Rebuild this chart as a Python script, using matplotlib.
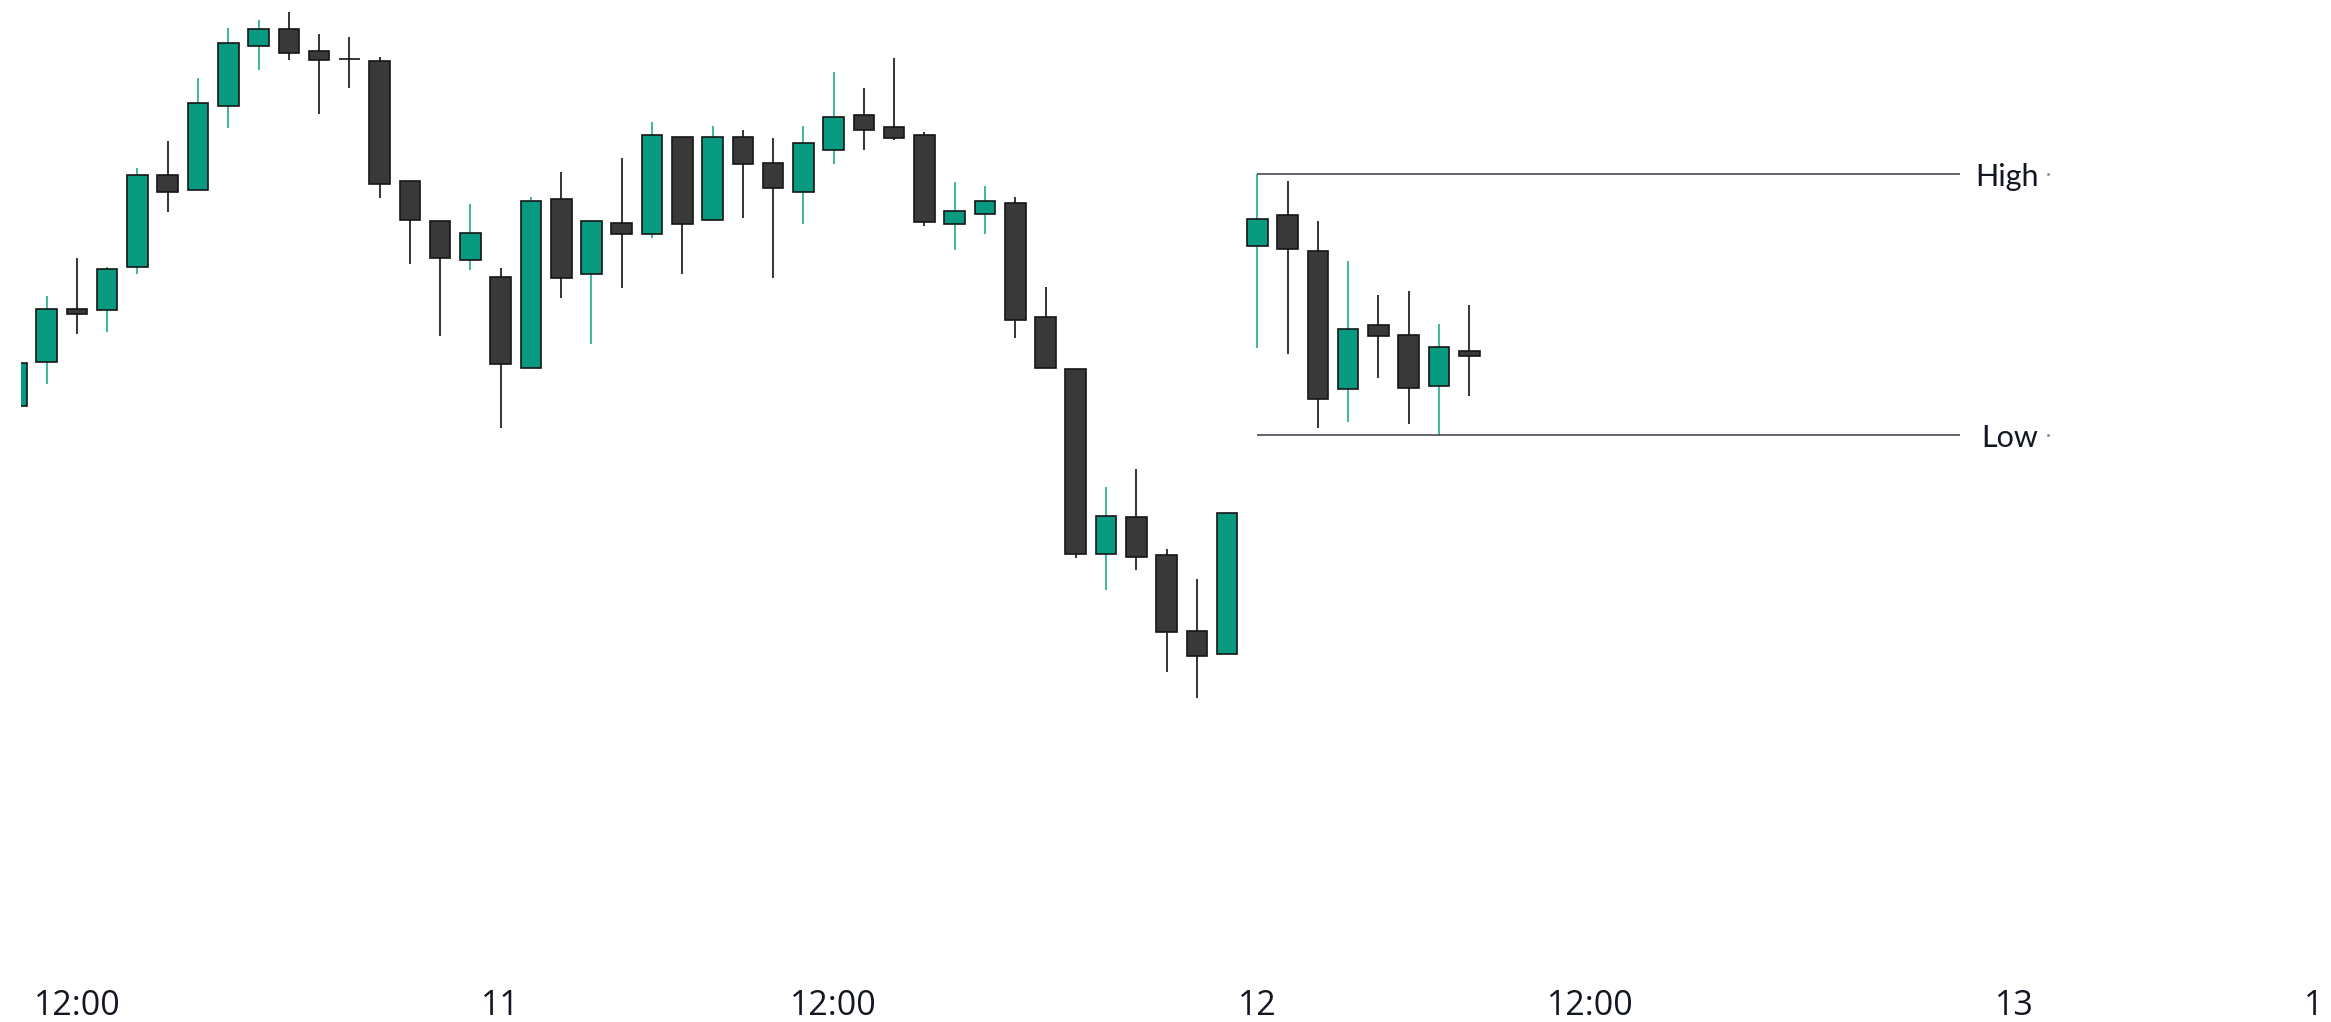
import matplotlib.pyplot as plt
from matplotlib.patches import Rectangle
from matplotlib.transforms import blended_transform_factory, ScaledTranslation, Bbox

# OHLC per candle (price units)
opens = [59.40, 63.83, 69.07, 69.00, 73.27, 82.50, 81.03, 89.43, 95.43, 97.10,
         94.93, 94.13, 93.93, 81.90, 77.90, 74.03, 72.30, 63.23, 80.10, 72.60,
         77.70, 76.63, 86.30, 78.03, 86.30, 83.70, 80.83, 85.03, 88.50, 87.30,
         86.50, 77.63, 78.63, 79.73, 68.30, 63.10, 44.60, 48.27, 44.50, 36.90,
         34.60, 75.43, 78.50, 74.90, 61.07, 67.50, 66.50, 61.40, 64.90]
highs = [63.90, 70.40, 74.17, 73.33, 83.17, 85.93, 92.17, 97.17, 98.00, 98.77,
         96.57, 96.33, 94.33, 81.90, 77.90, 79.57, 73.17, 80.33, 82.77, 77.90,
         84.17, 87.77, 86.30, 87.37, 86.97, 86.17, 87.37, 92.77, 91.17, 94.17,
         86.77, 81.77, 81.37, 80.33, 71.33, 63.10, 51.33, 53.10, 45.10, 42.10,
         48.67, 82.57, 81.93, 77.93, 73.93, 70.53, 70.93, 67.57, 69.53]
lows = [59.20, 61.60, 66.60, 66.77, 72.57, 78.80, 81.03, 87.17, 93.00, 94.00,
        88.60, 91.17, 80.20, 73.57, 66.40, 73.00, 57.23, 63.23, 70.17, 65.60,
        71.17, 76.17, 72.57, 78.03, 78.17, 72.23, 77.57, 83.57, 84.97, 85.97,
        77.37, 75.00, 76.57, 66.17, 63.23, 44.17, 41.00, 43.00, 32.77, 30.17,
        34.60, 65.17, 64.60, 57.23, 57.77, 62.20, 57.57, 56.50, 60.40]
closes = [63.70, 69.07, 68.63, 73.13, 82.50, 80.83, 89.70, 95.70, 97.10, 94.67,
          94.00, 94.07, 81.63, 78.00, 74.23, 76.70, 63.63, 79.90, 72.23, 77.90,
          76.63, 86.50, 77.63, 86.30, 83.63, 81.23, 85.70, 88.30, 87.03, 86.23,
          77.83, 78.90, 79.90, 68.00, 63.23, 44.60, 48.43, 44.27, 36.83, 34.40,
          48.67, 78.10, 75.07, 60.07, 67.07, 66.43, 61.23, 65.27, 64.43]

# time axis labels (candle index of each tick)
tick_pos = [2, 16, 27, 41, 52, 66, 77]
tick_labels = ["12:00", "11", "12:00", "12", "12:00", "13", "12:00"]

range_start = 41   # first candle of the High/Low range

UP = "#089981"
UP_WICK = "#45b89e"
DOWN = "#393939"
DOWN_WICK = "#3a3a3a"
EDGE = "#151515"
TEXT = "#131722"

W, H = 2331, 1022
fig = plt.figure(figsize=(W / 100, H / 100), dpi=100)
ax = fig.add_axes([21 / W, 60 / H, 1 - 21 / W, 962 / H])
ax.set_xlim(0.152, 76.47)
ax.set_ylim(3.8, 100)
ax.axis("off")

# candles
for i, (o, h, l, c) in enumerate(zip(opens, highs, lows, closes)):
    up = c >= o
    ax.vlines(i, l, h, color=UP_WICK if up else DOWN_WICK, lw=1.45, zorder=1)
    ax.add_patch(Rectangle((i - 0.34, min(o, c)), 0.68, abs(c - o),
                           facecolor=UP if up else DOWN, edgecolor=EDGE,
                           lw=1.2, zorder=2))

# high / low of the last range
hi = max(highs[range_start:])
lo = min(lows[range_start:])
line_end = 64.2
for lvl, name in [(hi, "High"), (lo, "Low")]:
    ax.hlines(lvl, range_start, line_end, color="#363a45", lw=1.1, zorder=3)
    off = ScaledTranslation(0, -11.5 / 100, fig.dpi_scale_trans)
    ax.text(66.8, lvl, name, ha="right", va="baseline", fontsize=22,
            family="Lato", color=TEXT, transform=ax.transData + off)
    ax.plot(67.12, lvl, marker="o", markersize=1.2, color="#9598a1",
            clip_on=False)

# time labels; the time pane cuts off a little before the right edge
trans = blended_transform_factory(ax.transData, ax.transAxes)
pane = Bbox([[0, 0], [2323, H]])
for pos, lab in zip(tick_pos, tick_labels):
    t = ax.text(pos, -0.0551, lab, transform=trans, ha="center", va="baseline",
                fontsize=24.5, family="Open Sans", color=TEXT)
    t.set_clip_box(pane)
    t.set_clip_on(True)

fig.savefig("out.png", dpi=100)
